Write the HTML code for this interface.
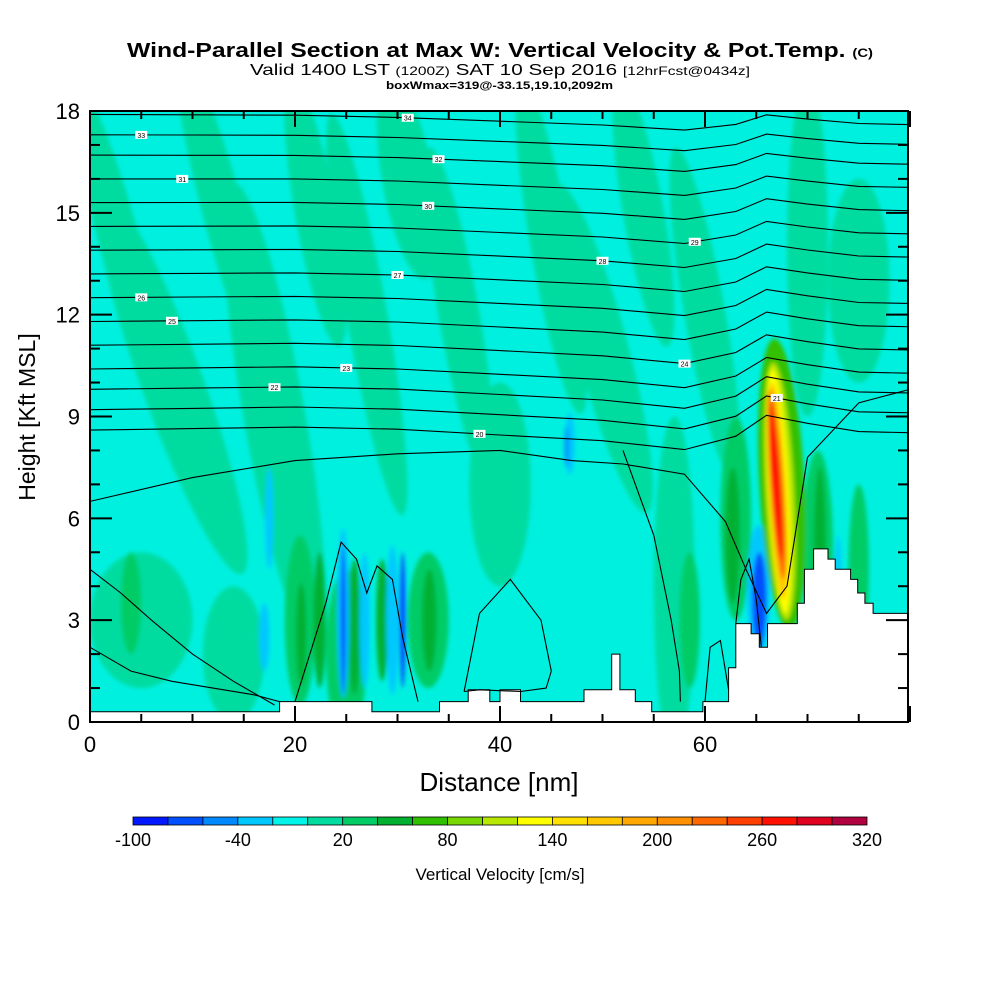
<!DOCTYPE html>
<html><head><meta charset="utf-8">
<style>
html,body{margin:0;padding:0;background:#fff;}
svg{display:block;font-family:"Liberation Sans",sans-serif;}
</style></head>
<body>
<svg id="chart" width="1000" height="1000" viewBox="0 0 1000 1000" xmlns="http://www.w3.org/2000/svg">
<defs>
<clipPath id="plotclip"><rect x="90" y="111" width="818" height="611"/></clipPath>
<filter id="soft" x="-50%" y="-50%" width="200%" height="200%"><feGaussianBlur stdDeviation="2"/></filter>
</defs>
<text x="127" y="57" font-size="20" font-weight="bold" textLength="746" lengthAdjust="spacingAndGlyphs">Wind-Parallel Section at Max W: Vertical Velocity &amp; Pot.Temp. <tspan font-size="12">(C)</tspan></text>
<text x="250" y="75" font-size="16" textLength="500" lengthAdjust="spacingAndGlyphs">Valid 1400 LST <tspan font-size="12">(1200Z)</tspan> SAT 10 Sep 2016 <tspan font-size="12">[12hrFcst@0434z]</tspan></text>
<text x="386" y="89" font-size="11" font-weight="bold" textLength="227" lengthAdjust="spacingAndGlyphs">boxWmax=319@-33.15,19.10,2092m</text>
<g id="plot" clip-path="url(#plotclip)">
<rect x="90" y="111" width="818" height="611" fill="#00f0e0"/>
<g id="fills" filter="url(#soft)"></g>
<g id="terrain"></g>
<g id="contours" fill="none" stroke="#000" stroke-width="1.1"></g>
<g id="clabels"></g>
</g>
<rect x="90" y="111" width="818" height="611" fill="none" stroke="#000" stroke-width="2"/>
<g id="axes"></g>
<text transform="translate(35,417) rotate(-90)" text-anchor="middle" font-size="23">Height [Kft MSL]</text>
<text x="499" y="791" text-anchor="middle" font-size="26">Distance [nm]</text>
<g id="colorbar"></g>
<text x="500" y="880" text-anchor="middle" font-size="17">Vertical Velocity [cm/s]</text>
</svg>
<script>
// ---- data ----
const xTicks = [0, 20, 40, 60];
const yTicks = [0, 3, 6, 9, 12, 15, 18];
const cbColors = ["#0018ff","#0050ff","#0088ff","#00c8ff","#00f4e8","#00dca0","#00cc66","#00b030","#30c000","#78d800","#b8e800","#ffff00","#ffe000","#ffc800","#ffa800","#ff9000","#ff6800","#ff4000","#ff1000","#e00020","#b00040"];
const cbLabels = ["-100","-40","20","80","140","200","260","320"];
const cbLabelIdx = [0,3,6,9,12,15,18,21];
// terrain: x (nm) breakpoints, height (kft)
const terrX = [0,18.5,27.5,34.1,36.9,39.0,40.0,42.0,44.9,48.2,50.9,51.7,53.2,54.8,59.8,61.5,62.3,63.0,64.5,65.3,66.1,69.0,69.7,70.6,72.0,72.7,74.2,74.9,75.6,76.4,80];
const terrH = [0.3,0.6,0.3,0.6,0.95,0.6,0.95,0.6,0.6,0.95,2.0,0.95,0.6,0.3,0.6,0.6,1.6,2.9,2.6,2.2,2.9,3.5,4.5,5.1,4.8,4.5,4.2,3.8,3.5,3.2,3.2];
// potential temperature isentropes: height (kft) at these x positions (nm)
const isoX = [0,10,20,30,40,50,58,63,66,70,75,80];
const isoBase = [17.9,17.3,16.7,16.0,15.3,14.6,13.9,13.2,12.5,11.8,11.1,10.4,9.8,9.2,8.6];
const isoShape = [0,0.05,0.1,0.1,0.05,0,-0.1,0.1,0.4,0.3,0.2,0.2];
const isoLabels = ["34","33","32","31","30","29","28","27","26","25","24","23","22","21","20"];
const lowLines = [
 {x:[0,10,20,30,40,47,52,58,62,64,66,68,70,75,80], h:[6.5,7.2,7.7,7.9,8.0,7.7,7.6,7.3,5.9,4.5,3.2,4.0,7.8,9.4,9.8]},
 {x:[0,3,6,10,14,18], h:[4.5,3.8,3.0,2.0,1.2,0.5]},
 {x:[0,4,8,12,16,18.5], h:[2.2,1.5,1.2,1.0,0.8,0.6]},
 {x:[20,23,24.5,26,27,28,29.5,30.5,32], h:[0.6,3.5,5.3,4.8,3.8,4.6,4.2,2.5,0.6]},
 {x:[36.5,38,41,44,45,44.5,42,38,36.5], h:[0.9,3.2,4.2,3.0,1.5,1.0,0.9,0.95,0.9]},
 {x:[52,55,56.7,57.5,57.6], h:[8.0,5.5,3.0,1.5,0.6]},
 {x:[60,60.5,61.5,62,62.3], h:[0.6,2.2,2.4,1.5,0.95]},
 {x:[63.0,63.5,64.3,65,65.5], h:[2.9,4.2,4.8,3.6,2.2]}
];
// vertical velocity features: [xnm, hkft, rx(nm), ry(kft), rot, colorIndex]
const wBlobs = [
 [3,14,2,5,-15,5],[8,10,3,6,-20,5],[13,15,2,5,-15,5],[18,9,3,7,-10,5],[22,15,2,4,-10,5],[27,12,2,6,-10,5],
 [31,16,2.5,3,-10,5],[36,12,2,5,-10,5],[40,7,3,3,0,5],[45,14,2,5,-10,5],[50,11,2.5,5,-15,5],[54,15,2,4,-10,5],
 [60,12,2,5,-10,5],[70,14,2,5,0,5],[75,13,3,3,0,5],[57,4,2,5,0,5],[5,3,5,2,0,5],[14,2,3,2,0,5],
 [4,3.5,1,1.5,0,6],[20.5,3,1.5,2.5,0,6],[25,2,2,2.5,0,6],[33,3,2,2,0,6],[58.5,3,1,2,0,6],[63,6,1.5,3,0,6],[71,5,1.5,3,0,6],[75,4.5,1,2.5,0,6],
 [20.6,2.6,0.5,1.5,0,7],[22.4,3,0.6,2,0,7],[25.8,2.8,0.6,2,0,7],[28.5,3,0.6,1.8,0,7],[33.1,3,0.7,1.5,0,7],[71.2,5,0.6,2.5,0,7],[62.7,5.5,0.7,2,0,7],
 [17.5,6,0.4,1.5,0,3],[17,2.5,0.5,1,0,3],[24.7,3.2,0.6,2.5,0,3],[26.8,3,0.5,2,0,3],[29.5,3,0.6,2.2,0,3],[46.8,8.2,0.5,0.9,0,3],[73,4,0.3,1.5,0,3],
 [24.7,3.0,0.25,2.2,0,1],[30.5,3.0,0.3,2.0,0,1],[46.5,8.1,0.2,0.6,0,2],
 [65.2,3.8,1.1,2.0,0,3],[65.3,3.6,0.7,1.4,0,1],
 [67.5,7.0,2.2,4.3,-3,8],[67.3,6.8,1.4,3.8,-3,10],[67.2,6.8,1.0,3.6,-3,11],[67.1,6.8,0.8,3.2,-3,13],[67.0,7.0,0.6,2.8,-4,16],[66.9,7.1,0.4,2.3,-4,18]
];
// ---- helpers ----
const X = nm => 90 + nm * 10.25;
const Y = h => 722 - h * (611/18);
const NS = "http://www.w3.org/2000/svg";
function mk(tag, attrs, parent){const e=document.createElementNS(NS,tag);for(const k in attrs)e.setAttribute(k,attrs[k]);parent.appendChild(e);return e;}
// fills
const fills=document.getElementById('fills');
wBlobs.forEach(b=>{
 const e=mk('ellipse',{cx:X(b[0]),cy:Y(b[1]),rx:b[2]*10.25,ry:b[3]*611/18,fill:cbColors[b[5]],transform:`rotate(${b[4]} ${X(b[0])} ${Y(b[1])})`},fills);
 
 
});
// isentropes
const cg=document.getElementById('contours'), lg=document.getElementById('clabels');
function path(xs,hs){return xs.map((x,i)=>(i?'L':'M')+X(x).toFixed(1)+','+Y(hs[i]).toFixed(1)).join(' ');}
isoBase.forEach((b,i)=>{
 const hs=isoX.map((x,j)=>b-(x/80)*0.5+isoShape[j]*(1+i*0.08));
 const p=mk('path',{d:path(isoX,hs)},cg);
 
 
 const lx=[31,5,34,9,33,59,50,30,5,8,58,25,18,67,38][i];
 let k=0;while(k<isoX.length-2&&isoX[k+1]<lx)k++;
 const t=(lx-isoX[k])/(isoX[k+1]-isoX[k]);const lh=hs[k]+t*(hs[k+1]-hs[k]);
 const r=mk('rect',{x:X(lx)-6,y:Y(lh)-4,width:12,height:8,fill:'#fff'},lg);
 
 
 const tx=mk('text',{x:X(lx),y:Y(lh)+3,'font-size':7,'text-anchor':'middle'},lg);tx.textContent=isoLabels[i];
 
 
});
lowLines.forEach(l=>{
 const p=mk('path',{d:path(l.x,l.h)},cg);
 
 
});
// terrain
const tg=document.getElementById('terrain');
let d='M'+X(0)+','+Y(0);
terrX.forEach((x,i)=>{ if(i>0) d+=' L'+X(x).toFixed(1)+','+Y(terrH[i-1]).toFixed(1); d+=' L'+X(x).toFixed(1)+','+Y(terrH[i]).toFixed(1);});
d+=' L'+X(80)+','+Y(0)+' Z';
const tp=mk('path',{d:d,fill:'#fff',stroke:'#000','stroke-width':1},tg);


// axes
const ag=document.getElementById('axes');
for(let nm=0;nm<=80;nm+=5){
 const L=nm%20===0?16:8;
 [[722,722-L],[111,111+L]].forEach(s=>{const t=mk('line',{x1:X(nm),x2:X(nm),y1:s[0],y2:s[1],stroke:'#000','stroke-width':2},ag);
 });
}
for(let h=0;h<=18;h++){
 const L=h%3===0?22:10;
 [[90,90+L],[908,908-L]].forEach(s=>{const t=mk('line',{x1:s[0],x2:s[1],y1:Y(h),y2:Y(h),stroke:'#000','stroke-width':2},ag);
 });
}
xTicks.forEach(v=>{const t=mk('text',{x:X(v),y:752,'font-size':22,'text-anchor':'middle'},ag);t.textContent=v;
 });
yTicks.forEach(v=>{const t=mk('text',{x:80,y:Y(v)+8,'font-size':22,'text-anchor':'end'},ag);t.textContent=v;
 });
// colorbar
const cb=document.getElementById('colorbar');
const cbx0=133,cbw=(867-133)/cbColors.length;
cbColors.forEach((c,i)=>{const r=mk('rect',{x:cbx0+i*cbw,y:817,width:cbw,height:8,fill:c,stroke:'#000','stroke-width':0.8},cb);
 });
cbLabels.forEach((l,i)=>{const t=mk('text',{x:cbx0+cbLabelIdx[i]*cbw,y:846,'font-size':18,'text-anchor':'middle'},cb);t.textContent=l;
 });
</script>
</body></html>
